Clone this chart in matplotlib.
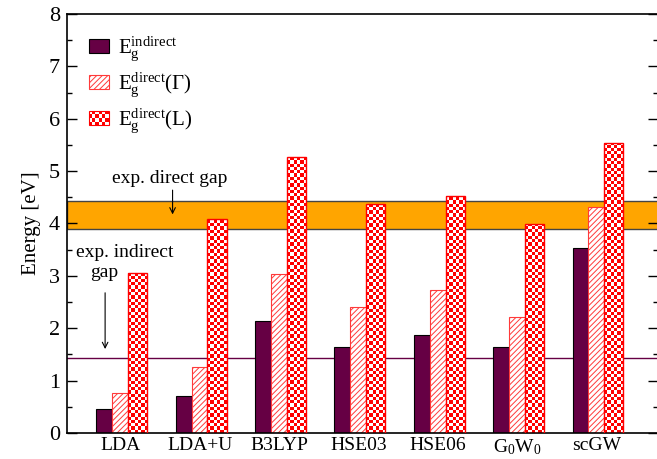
import numpy as np
import matplotlib
matplotlib.use("Agg")
import matplotlib.pyplot as plt
from matplotlib.patches import Rectangle, Patch
from matplotlib.legend_handler import HandlerBase
from matplotlib.ticker import MultipleLocator

# band gaps from the different methods (eV)
methods = ["LDA", "LDA+U", "B3LYP", "HSE03", "HSE06", "G$_0$W$_0$", "scGW"]
e_indirect = [0.46, 0.71, 2.14, 1.64, 1.87, 1.64, 3.53]
e_direct_gamma = [0.76, 1.26, 3.03, 2.40, 2.73, 2.21, 4.31]
e_direct_L = [3.05, 4.08, 5.27, 4.37, 4.52, 3.99, 5.53]

# experimental values
exp_direct = [3.89, 4.43]
exp_indirect = 1.43

plt.rcParams["font.family"] = "Liberation Serif"
plt.rcParams["mathtext.fontset"] = "custom"
plt.rcParams["mathtext.rm"] = "Liberation Serif"
plt.rcParams["mathtext.it"] = "Liberation Serif:italic"
plt.rcParams["mathtext.default"] = "regular"
plt.rcParams["hatch.linewidth"] = 0.7

purple = "#660044"


class CheckerHandler(HandlerBase):
    # small red/white checkerboard box for the legend
    def create_artists(self, legend, orig_handle, xdescent, ydescent,
                       width, height, fontsize, trans):
        arts = []
        nx, ny = 6, 4
        cw, ch = width / nx, height / ny
        for i in range(nx):
            for j in range(ny):
                if (i + j) % 2 == 0:
                    arts.append(Rectangle((-xdescent + i * cw, -ydescent + j * ch), cw, ch,
                                          facecolor="red", edgecolor="none", transform=trans))
        arts.append(Rectangle((-xdescent, -ydescent), width, height, facecolor="none",
                              edgecolor="red", lw=0.8, transform=trans))
        return arts


def main():
    fig = plt.figure(figsize=(6.57, 4.59), dpi=100)
    ax = fig.add_axes([0.102, 0.0566, 0.9, 0.913])

    x = np.arange(1, len(methods) + 1)

    # experimental direct gap band and indirect gap line
    ax.axhspan(exp_direct[0], exp_direct[1], facecolor="#ffa500", edgecolor="#444444",
               lw=1.0, zorder=1)
    ax.axhline(exp_indirect, color=purple, lw=1.0, zorder=1)

    b1 = ax.bar(x - 0.2, e_indirect, width=0.2, color=purple, edgecolor="black",
                lw=0.8, zorder=2)
    b2 = ax.bar(x, e_direct_gamma, width=0.2, color="white", edgecolor="#ff3a3a",
                hatch="//////", lw=0.8, zorder=2)
    b3 = ax.bar(x + 0.22, e_direct_L, width=0.24, facecolor="none", edgecolor="red",
                lw=1.0, zorder=3)

    # checkerboard fill for the L bars
    cells_x, cell_y = 6, 1 / 16
    for rect, v in zip(b3.patches, e_direct_L):
        x0 = rect.get_x()
        w = rect.get_width()
        ny = int(np.ceil(v / cell_y))
        board = (np.indices((ny, cells_x)).sum(axis=0) % 2).astype(float)
        im = ax.imshow(board, extent=(x0, x0 + w, 0, ny * cell_y), origin="lower",
                       cmap=matplotlib.colors.ListedColormap(["red", "white"]),
                       interpolation="nearest", aspect="auto", zorder=2.5)
        im.set_clip_path(rect)

    ax.set_xlim(0.33, 7.78)
    ax.set_ylim(0, 8)
    ax.set_aspect("auto")

    ax.set_xticks(x)
    ax.set_xticklabels(methods, fontsize=14)
    ax.tick_params(axis="x", length=0, pad=3)
    ax.yaxis.set_major_locator(MultipleLocator(1))
    ax.yaxis.set_minor_locator(MultipleLocator(0.5))
    ax.tick_params(axis="y", which="both", direction="in", left=True, right=True,
                   labelsize=16, pad=5)
    ax.tick_params(axis="y", which="major", length=7, width=1)
    ax.tick_params(axis="y", which="minor", length=3.5, width=1)
    ax.set_ylabel("Energy [eV]", fontsize=15, labelpad=6)
    for s in ax.spines.values():
        s.set_linewidth(1.2)

    # annotations for the experimental gaps
    ax.text(1.62, 4.85, "exp. direct gap", fontsize=14, ha="center", va="center")
    ax.annotate("", xy=(1.66, 4.12), xytext=(1.66, 4.69),
                arrowprops=dict(arrowstyle="->", lw=0.8, color="black"))
    ax.text(1.06, 3.44, "exp. indirect", fontsize=14, ha="center", va="center")
    ax.text(0.80, 3.07, "gap", fontsize=14, ha="center", va="center")
    ax.annotate("", xy=(0.81, 1.55), xytext=(0.81, 2.73),
                arrowprops=dict(arrowstyle="->", lw=0.8, color="black"))

    checker = Patch(facecolor="red", edgecolor="red")
    ax.legend([b1.patches[0], b2.patches[0], checker],
              ["E$_g^{indirect}$", "E$_g^{direct}$(Γ)", "E$_g^{direct}$(L)"],
              handler_map={checker: CheckerHandler()},
              loc="upper left", bbox_to_anchor=(0.005, 0.995), frameon=False,
              fontsize=15, handlelength=0.95, handleheight=0.7, handletextpad=0.45,
              labelspacing=0.35)

    fig.savefig("out.png", dpi=100)


if __name__ == "__main__":
    main()
